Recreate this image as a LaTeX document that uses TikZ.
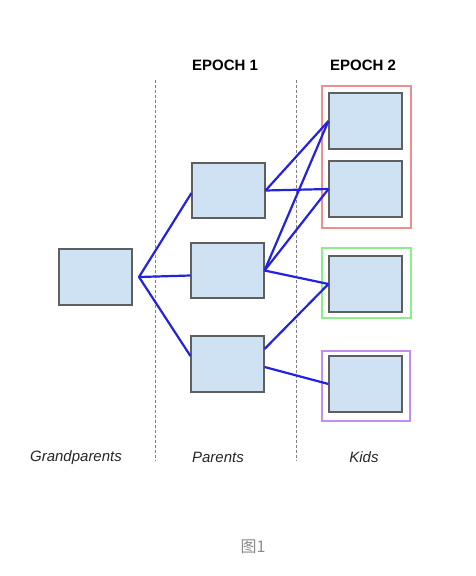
\documentclass[tikz,border=0pt]{standalone}
\usepackage{fontspec}
\setmainfont{Liberation Sans}
\newfontfamily\cjk{Noto Sans CJK SC}
\usetikzlibrary{calc}
\definecolor{boxfill}{HTML}{CFE2F3}
\definecolor{boxline}{HTML}{5F5F5F}
\definecolor{link}{HTML}{2323DD}
\definecolor{fred}{HTML}{EE8E8E}
\definecolor{fgreen}{HTML}{8BEE8B}
\definecolor{fpurple}{HTML}{C58EEE}
\tikzset{
  item/.style={draw=boxline, fill=boxfill, line width=1.1pt, minimum width=73pt, minimum height=56pt, inner sep=0pt},
  frame/.style={draw=#1, line width=1.4pt, inner sep=0pt},
  link/.style={draw=link, line width=2.2pt},
  sep/.style={draw=gray, dashed, dash pattern=on 3pt off 2pt, line width=0.9pt},
  head/.style={font=\fontsize{15}{18}\selectfont\bfseries, anchor=base},
  foot/.style={font=\fontsize{15}{18}\selectfont\itshape, anchor=base, text=black!85},
}
\begin{document}
\begin{tikzpicture}[x=1pt,y=-1pt]
\useasboundingbox (0,0) rectangle (475,576);
% separators
\coordinate (s1a) at (155,80); \coordinate (s1b) at (155,461);
\coordinate (s2a) at (296,80); \coordinate (s2b) at (296,461);
\draw[sep] (s1a) -- (s1b);
\draw[sep] (s2a) -- (s2b);
% frames
\node[frame=fred, minimum width=89pt, minimum height=142pt] (fr) at (366.5,157) {};
\node[frame=fgreen, minimum width=89pt, minimum height=70pt] (fg) at (366.5,283) {};
\node[frame=fpurple, minimum width=88pt, minimum height=70pt] (fp) at (366,386) {};
% boxes
\node[item] (G) at (95.5,277) {};
\node[item, minimum height=55pt] (P1) at (228.5,190.5) {};
\node[item, minimum height=55pt] (P2) at (227.5,270.5) {};
\node[item] (P3) at (227.5,364) {};
\node[item] (K1) at (365.5,121) {};
\node[item] (K2) at (365.5,189) {};
\node[item] (K3) at (365.5,284) {};
\node[item] (K4) at (365.5,384) {};
% links
\coordinate (gp) at (139,277);
\draw[link, line join=round] ([yshift=-2.5pt]P1.west) -- (gp) -- ([yshift=-5pt]P2.west);
\draw[link, line join=round] (gp) -- ([yshift=8pt]P3.west);
\draw[link] (P1.east) -- (K1.west);
\draw[link] (P1.east) -- (K2.west);
\draw[link] (P2.east) -- (K1.west);
\draw[link] (P2.east) -- (K2.west);
\draw[link] (P2.east) -- (K3.west);
\draw[link] ([yshift=15pt]P3.east) -- (K3.west);
\draw[link] ([yshift=-3pt]P3.east) -- (K4.west);
% labels
\node[head] (e1) at (225,70) {EPOCH 1};
\node[head] (e2) at (363,70) {EPOCH 2};
\node[foot] (lg) at (76,461) {Grandparents};
\node[foot] (lp) at (218,462) {Parents};
\node[foot] (lk) at (364,462) {Kids};
\node[anchor=base, text=black!45, font=\cjk\fontsize{16}{18}\selectfont] (cap) at (253,552) {图1};
\end{tikzpicture}
\end{document}
